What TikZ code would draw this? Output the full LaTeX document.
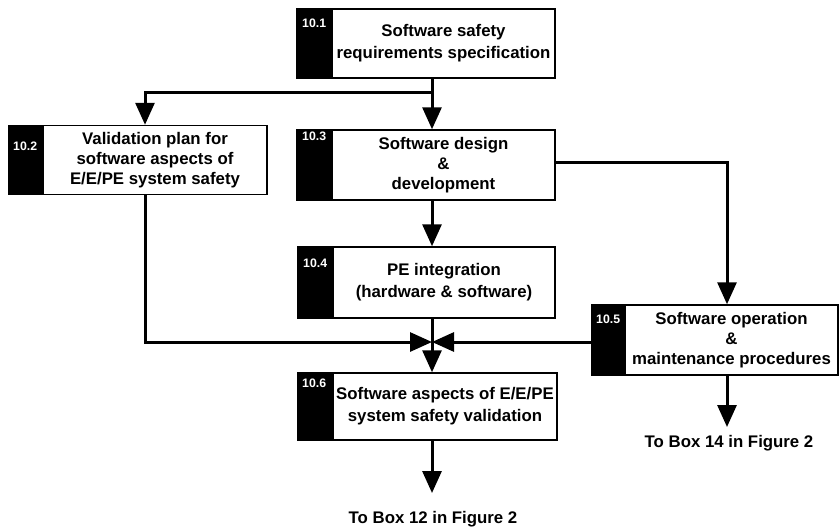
\documentclass[tikz,border=0pt]{standalone}
\usepackage{fontspec}
\setmainfont{Liberation Sans}
\usetikzlibrary{arrows.meta}
\begin{document}
\begin{tikzpicture}[x=1pt,y=-1pt,
  wbox/.style={draw=black, line width=1.5pt, fill=white, align=center, inner sep=0pt,
    font=\fontsize{16.8}{22}\selectfont\bfseries},
  wbox3/.style={wbox, font=\fontsize{16.8}{20}\selectfont\bfseries},
  tabbox/.style={draw=black, line width=1.5pt, fill=black, inner sep=0pt, anchor=north east},
  num/.style={text=white, anchor=base west, inner sep=0pt, font=\fontsize{12.3}{14}\selectfont\bfseries},
  lbl/.style={anchor=base, inner sep=0pt, font=\fontsize{16.8}{19}\selectfont\bfseries},
  conn/.style={line width=3pt, draw=black},
  arr/.style={conn, -{Triangle[length=22pt,width=19pt]}}]
\useasboundingbox (0,0) rectangle (840,528);

% boxes
\node[wbox, minimum width=223pt, minimum height=69pt] (b1) at (443.5,43.5) {Software safety\\requirements specification};
\node[tabbox, minimum width=34pt, minimum height=69pt] (t1) at (b1.north west) {};
\node[num] (n1) at (302,27) {10.1};

\node[wbox3, minimum width=224pt, minimum height=69pt] (b2) at (155,160) {Validation plan for\\software aspects of\\E/E/PE system safety};
\node[tabbox, minimum width=33pt, minimum height=69pt] (t2) at (b2.north west) {};
\node[num] (n2) at (13,150) {10.2};

\node[wbox3, minimum width=223pt, minimum height=70pt] (b3) at (443.5,165) {Software design\\\&\\development};
\node[tabbox, minimum width=34pt, minimum height=70pt] (t3) at (b3.north west) {};
\node[num] (n3) at (302,140) {10.3};

\node[wbox, minimum width=222pt, minimum height=71pt] (b4) at (444,282.5) {PE integration\\(hardware \& software)};
\node[tabbox, minimum width=34pt, minimum height=71pt] (t4) at (b4.north west) {};
\node[num] (n4) at (303,267) {10.4};

\node[wbox3, minimum width=213pt, minimum height=70pt] (b5) at (731.5,340) {Software operation\\\&\\maintenance procedures};
\node[tabbox, minimum width=32pt, minimum height=70pt] (t5) at (b5.north west) {};
\node[num] (n5) at (596,323) {10.5};

\node[wbox, minimum width=224pt, minimum height=67pt] (b6) at (445,406.5) {Software aspects of E/E/PE\\system safety validation};
\node[tabbox, minimum width=34pt, minimum height=67pt] (t6) at (b6.north west) {};
\node[num] (n6) at (302,387) {10.6};

% bottom labels
\node[lbl] (l12) at (433,523) {To Box 12 in Figure 2};
\node[lbl] (l14) at (729,447) {To Box 14 in Figure 2};

% coordinates
\coordinate (j1) at (432,92);
\coordinate (k2) at (145,92);
\coordinate (k3) at (727,162);
\coordinate (j2) at (432,342);
\coordinate (e6) at (432,493);
\coordinate (e5) at (727,427);

% connectors
\draw[conn] (b1.south -| j1) -- (j1);
\draw[arr] (j1) -- (k2) -- (k2 |- b2.north);
\draw[arr] (j1) -- (b3.north -| j1);
\draw[arr] (b3.south -| j1) -- (b4.north -| j1);
\draw[arr] (b3.east |- k3) -- (k3) -- (k3 |- b5.north);
\draw[arr] (b2.south -| k2) |- (j2);
\draw[arr] (t5.west |- j2) -- (j2);
\draw[conn] (b4.south -| j2) -- (j2);
\draw[arr] (j2) -- (b6.north -| j2);
\draw[arr] (b6.south -| e6) -- (e6);
\draw[arr] (b5.south -| e5) -- (e5);
\end{tikzpicture}
\end{document}
